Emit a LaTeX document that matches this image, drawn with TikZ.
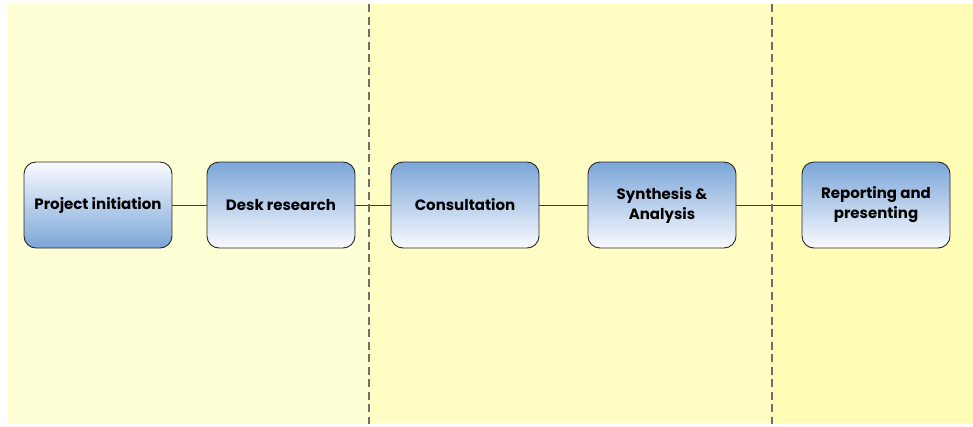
\documentclass[tikz,border=0pt]{standalone}
\usepackage{fontspec}
\setmainfont{Poppins}
\usetikzlibrary{positioning,calc}
\definecolor{stageBlue}{RGB}{122,166,216}
\definecolor{stageWhite}{RGB}{250,250,255}
\definecolor{edgeGray}{RGB}{40,40,40}
\definecolor{phaseOne}{RGB}{255,255,214}
\definecolor{phaseTwo}{RGB}{255,253,195}
\definecolor{phaseThree}{RGB}{255,252,181}
\definecolor{splitGray}{RGB}{110,110,110}
\tikzset{
    stagebox/.style={rectangle, rounded corners=12pt, draw=edgeGray, line width=0.9pt,
        minimum width=148pt, minimum height=86pt, inner sep=2pt, outer sep=0pt,
        font=\fontsize{15}{20}\selectfont\bfseries, align=center,
        top color=stageBlue, bottom color=stageWhite},
    stageflip/.style={top color=stageWhite, bottom color=stageBlue},
    link/.style={draw=edgeGray!90, line width=0.8pt},
    splitline/.style={draw=splitGray, line width=1.1pt, dash pattern=on 8pt off 4.5pt},
}
\begin{document}
\begin{tikzpicture}[x=1pt, y=-1pt]

\useasboundingbox (0,0) rectangle (973,426);
\fill[white] (0,0) rectangle (973,426);

% Phase backgrounds
\fill[phaseOne] (8,4) rectangle (369,423);
\fill[phaseTwo] (369,4) rectangle (772,423);
\fill[phaseThree] (772,4) rectangle (973,423);

% Phase dividers
\coordinate (split1top) at (369,4);
\coordinate (split1bot) at (369,424);
\coordinate (split2top) at (772,4);
\coordinate (split2bot) at (772,424);

% Stages
\node[stagebox, stageflip] (init) at (98,205) {Project initiation};
\node[stagebox, right=35pt of init] (desk) {Desk research};
\node[stagebox, right=36pt of desk] (consult) {Consultation};
\node[stagebox, right=49pt of consult] (synth) {Synthesis \&\\Analysis};
\node[stagebox, right=66pt of synth] (report) {Reporting and\\presenting};

% Links
\draw[link] (init) -- (desk);
\draw[link] (desk) -- (consult);
\draw[link] (consult) -- (synth);
\draw[link] (synth) -- (report);

\draw[splitline] (split1top) -- (split1bot);
\draw[splitline] (split2top) -- (split2bot);

\end{tikzpicture}
\end{document}
